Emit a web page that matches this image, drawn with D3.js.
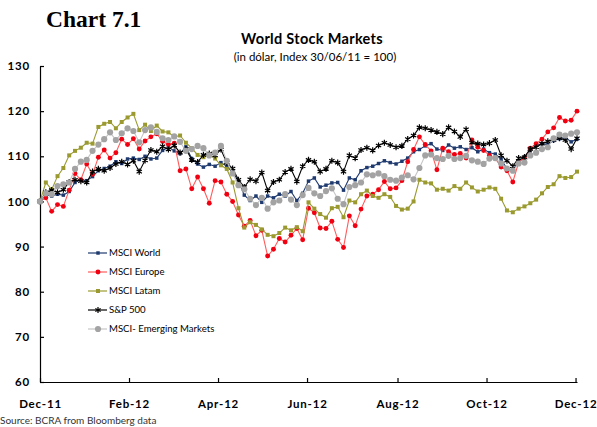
<!DOCTYPE html>
<html>
<head>
<meta charset="utf-8">
<script src="https://cdn.jsdelivr.net/npm/d3@7"></script>
<style>
  body { margin: 0; background: #fff; }
  text { font-family: Lato, "Open Sans", sans-serif; }
</style>
</head>
<body>
<div id="chart"></div>
<script>
////////////////////////////////////////////////////////////////
// Data: one value every 4 days, starting 30 Dec 2011

let startDate = new Date(2011, 11, 30)
let stepDays = 4

let msciWorld = [100, 101.5, 101.2, 101.6, 101.4, 102.2, 104.2, 104.8, 104.6, 105.5,
  106.8, 107.3, 107.8, 108.8, 108.4, 109.4, 109.6, 109.3, 110, 109.4,
  109.6, 111.3, 112, 111.2, 110.6, 112.1, 109.5, 108.3, 107.6, 108.2,
  107.8, 108.6, 107.8, 106.5, 104.5, 101.4, 100.2, 101.2, 99.8, 101.2,
  100.8, 101.6, 101.2, 102.2, 100.2, 101.8, 104.5, 105.2, 103.2, 103.6,
  104.1, 104.2, 102.5, 105.2, 104.8, 106.8, 107.5, 107.8, 108.4, 109,
  108.6, 108.3, 108.9, 109.6, 111, 111.5, 112.3, 112.8, 111.6, 111.3,
  112.5, 111.8, 112.1, 111.5, 111.9, 111, 111.6, 110.8, 110.5, 109.4,
  107.2, 106.9, 109, 109.9, 111.2, 112.4, 112.8, 112.6, 113.5, 113.9,
  114.2, 113.2, 113.8]

let msciEurope = [100, 100.8, 97.8, 99.3, 98.9, 102.5, 106.2, 104.8, 108.3, 106,
  109.8, 111.4, 109.6, 110.8, 113.8, 112.6, 113.9, 111.6, 113.4, 114.3,
  115, 113.3, 112.6, 112.9, 106.8, 107.2, 102.8, 105.4, 102.8, 99.6,
  104.6, 104.3, 101.6, 100, 97, 94.5, 95.8, 92.4, 93.6, 87.9,
  89.4, 91.8, 91, 92.5, 94, 91.5, 98.5, 97.5, 94.1, 94,
  95.6, 91.6, 89.8, 96.8, 94.6, 98.3, 101.2, 101.6, 102.6, 104.4,
  102.8, 103, 104.6, 108.8, 111.5, 114.3, 112.6, 111.2, 107, 111.8,
  111, 110.4, 110.6, 109.6, 113.6, 112, 111.3, 110.2, 109.5, 107.6,
  106.8, 104.3, 108.6, 109.6, 111.8, 112.8, 113.8, 115.4, 116.3, 118.6,
  117.8, 118, 120]

let msciLatam = [100, 104.2, 102.6, 105.6, 107.4, 110.2, 111.2, 111.9, 113, 112.8,
  116.5, 117.2, 117.6, 116.2, 117.6, 118.6, 119.4, 115.8, 117, 115.6,
  116.8, 115.5, 115.3, 114.3, 114.6, 113, 111.8, 110.3, 109.8, 110.4,
  109.5, 108, 107.2, 104.2, 98.5, 94.2, 95.4, 94.8, 93.8, 92.6,
  92.3, 93, 94.2, 93.6, 94.3, 93.4, 99.8, 98.4, 97.2, 96.4,
  98.5, 98.8, 96.5, 100.2, 99.8, 101.6, 102.4, 101.2, 100.8, 101.6,
  101, 99, 98.2, 98.4, 100, 104.8, 104.2, 104, 102.6, 102.8,
  102.4, 103.4, 102.8, 104.2, 103.1, 102.2, 102.6, 103.1, 102.8, 100.6,
  98, 97.6, 98.4, 98.9, 99.6, 100.4, 101.8, 103.2, 103.8, 105.6,
  105.2, 105.4, 106.6]

let sp500 = [100, 102, 102.5, 102, 102.6, 104.3, 104.8, 104.5, 104.2, 106.6,
  107.2, 106.8, 107.4, 108.3, 108.8, 108.2, 109, 106.6, 109.1, 111.4,
  111, 112.2, 111.5, 112.4, 110.8, 111.6, 109.2, 108.7, 110.3, 110.6,
  110.2, 111.5, 108.6, 107.3, 104.8, 103.2, 104.9, 104.5, 106.4, 102.4,
  104.3, 104.8, 106.5, 107.2, 104.4, 107.8, 109.2, 108.8, 106.6, 107.2,
  109, 108.6, 106.6, 110.2, 109.6, 111.4, 111.9, 111.3, 112.4, 113,
  112.5, 112, 112.3, 113.8, 114.6, 116.4, 116.2, 115.8, 115.4, 114.9,
  116.4, 115.5, 114.3, 116, 113, 112.8, 112.6, 112.9, 113.6, 110.2,
  109, 107.8, 109.6, 109.8, 111.6, 112, 112.8, 113.3, 113.6, 114,
  113.6, 111.6, 114]

let msciEM = [100, 101.8, 101.6, 103.4, 103.8, 104.2, 107.2, 108.8, 109.2, 111.2,
  112.6, 113.8, 115.3, 113.6, 115.1, 116.2, 115.6, 113.1, 115.8, 116.4,
  115.4, 114, 113.6, 114.4, 113.2, 111.2, 111.6, 112.3, 111.8, 110.2,
  110.8, 112.3, 109, 106.2, 103.6, 102.7, 100.6, 99.2, 100.8, 98.4,
  99.8, 100.2, 101.6, 100.4, 99.2, 101.4, 103, 101.8, 101.2, 102.3,
  102.9, 100.6, 99.4, 103.2, 103.6, 104.2, 106, 105.8, 106.2, 105.6,
  104.8, 104.6, 105.3, 105.8, 104.9, 107.4, 110.2, 110.4, 109.6, 109.4,
  110.1, 109.4, 109.6, 110.1, 109.1, 108.8, 108.3, 109.5, 109.6, 108.4,
  107.3, 106.8, 108.4, 108.6, 110.2, 110.8, 111.6, 112, 114, 114.8,
  114.6, 115, 115.3]

let seriesNames = ["MSCI World", "MSCI Europe", "MSCI Latam", "S&P 500", "MSCI- Emerging Markets"]
let seriesValues = [msciWorld, msciEurope, msciLatam, sp500, msciEM]

let yTicks = [60, 70, 80, 90, 100, 110, 120, 130]
let xTickDates = ["2011-12-30", "2012-02-29", "2012-04-30", "2012-06-30", "2012-08-31", "2012-10-31", "2012-12-31"]

// styles, one per series
let lineColors = ["#1f3a6e", "#ff5c5c", "#9a9a30", "#000000", "#c4c4c4"]
let markerColors = ["#1f3a6e", "#f00010", "#9a9a30", "#000000", "#a3a3a3"]
let markerShapes = [d3.symbolSquare, d3.symbolCircle, d3.symbolSquare, d3.symbolAsterisk, d3.symbolCircle]
let markerSizes = [12, 19, 16, 26, 30]


////////////////////////////////////////////////////////////////
// Setup

let svg = d3.select("#chart").append("svg")
  .attr("width", 597)
  .attr("height", 427)

let parseDay = d3.timeParse("%Y-%m-%d")
let endDate = d3.timeDay.offset(startDate, stepDays * (msciWorld.length - 1))

let xScale = d3.scaleTime().domain([startDate, endDate]).range([40, 577])
let yScale = d3.scaleLinear().domain([60, 130]).range([382, 66])

let series = seriesValues.map((vals, k) => ({
  name: seriesNames[k],
  k: k,
  points: vals.map((v, i) => ({ date: d3.timeDay.offset(startDate, stepDays * i), value: v }))
}))


////////////////////////////////////////////////////////////////
// Titles

svg.append("text")
   .attr("x", 46).attr("y", 27)
   .style("font-family", "'Liberation Serif', 'DejaVu Serif', serif")
   .style("font-weight", "bold")
   .style("font-size", "23.5px")
   .text("Chart 7.1")

svg.append("text")
   .attr("x", 312).attr("y", 44)
   .attr("text-anchor", "middle")
   .style("font-weight", "bold")
   .style("font-size", "14.5px")
   .style("letter-spacing", "0.3px")
   .text("World Stock Markets")

svg.append("text")
   .attr("x", 315).attr("y", 61)
   .attr("text-anchor", "middle")
   .style("font-size", "11.5px")
   .text("(in dólar, Index 30/06/11 = 100)")

svg.append("text")
   .attr("x", 0).attr("y", 424)
   .style("font-size", "10px")
   .style("fill", "#333")
   .text("Source: BCRA from Bloomberg data")


////////////////////////////////////////////////////////////////
// Axes

let xAxis = d3.axisBottom(xScale)
  .tickValues(xTickDates.map(parseDay))
  .tickFormat(d3.timeFormat("%b-%y"))
  .tickSizeInner(-4)
  .tickSizeOuter(0)
  .tickPadding(18)

let yAxis = d3.axisLeft(yScale)
  .tickValues(yTicks)
  .tickSizeInner(-4)
  .tickSizeOuter(0)
  .tickPadding(10)

let gx = svg.append("g")
   .attr("transform", `translate(0,${yScale(60)})`)
   .call(xAxis)

let gy = svg.append("g")
   .attr("transform", `translate(${xScale(startDate)},0)`)
   .call(yAxis)

for (let g of [gx, gy]) {
  g.selectAll("text")
   .style("font-family", "Lato, sans-serif")
   .style("font-weight", "bold")
   .style("font-size", "11.5px")
   .style("letter-spacing", "0.8px")
   .attr("fill", "#000")
  g.selectAll("path, line").attr("stroke", "#000").attr("stroke-width", 1.2)
}


////////////////////////////////////////////////////////////////
// Lines and markers

let line = d3.line()
  .x(d => xScale(d.date))
  .y(d => yScale(d.value))

function drawMarker(sel, k) {
  let isStroke = markerShapes[k] === d3.symbolAsterisk
  sel.attr("d", d3.symbol(markerShapes[k], markerSizes[k]))
     .attr("fill", isStroke ? "none" : markerColors[k])
     .attr("stroke", isStroke ? markerColors[k] : "none")
     .attr("stroke-width", isStroke ? 1.2 : 0)
}

let seriesG = svg.append("g")
  .selectAll("g")
  .data(series)
  .enter()
  .append("g")

seriesG.append("path")
  .attr("d", d => line(d.points))
  .attr("fill", "none")
  .attr("stroke", d => lineColors[d.k])
  .attr("stroke-width", 1.1)

seriesG.each(function(s) {
  d3.select(this).selectAll("path.mk")
    .data(s.points)
    .enter()
    .append("path")
    .attr("class", "mk")
    .attr("transform", d => `translate(${xScale(d.date)},${yScale(d.value)})`)
    .call(drawMarker, s.k)
})


////////////////////////////////////////////////////////////////
// Legend

let legend = svg.append("g")
  .selectAll("g")
  .data(series)
  .enter()
  .append("g")
  .attr("transform", (d, i) => `translate(88,${253 + i * 19})`)

legend.append("line")
  .attr("x1", 0).attr("x2", 19)
  .attr("stroke", d => lineColors[d.k])
  .attr("stroke-width", 1.2)

legend.append("path")
  .attr("transform", "translate(10,0)")
  .each(function(d) { d3.select(this).call(drawMarker, d.k) })

legend.append("text")
  .attr("x", 21).attr("dy", "0.35em")
  .style("font-size", "9.6px")
  .text(d => d.name)
</script>
</body>
</html>
